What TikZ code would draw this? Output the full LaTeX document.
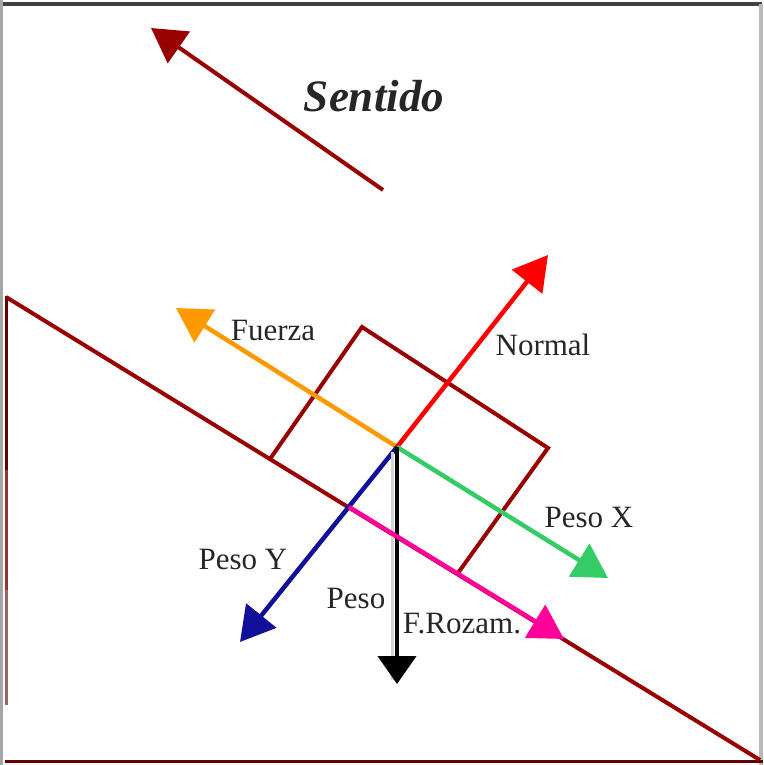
\documentclass[tikz,border=0pt]{standalone}
\usepackage{fontspec}
\setmainfont{Liberation Serif}
\usetikzlibrary{arrows.meta}
\definecolor{dred}{HTML}{990000}
\definecolor{ddred}{HTML}{660000}
\definecolor{mred}{HTML}{993333}
\definecolor{lred}{HTML}{996666}
\definecolor{forange}{HTML}{FF9900}
\definecolor{fred}{HTML}{FF0000}
\definecolor{fgreen}{HTML}{33CC66}
\definecolor{fnavy}{HTML}{10109A}
\definecolor{fpink}{HTML}{FF0099}
\tikzset{
  frame/.style={line width=3.5pt},
  body/.style={dred,line width=4pt,line join=miter},
  force/.style={line width=4.5pt,-{Triangle[length=34pt,width=38pt]}},
  lbl/.style={font=\fontsize{31}{31}\selectfont,text=black!85,inner sep=0pt},
}
\begin{document}
\begin{tikzpicture}[x=1pt,y=-1pt]
\useasboundingbox (0,0) rectangle (763,765);
% frame
\draw[frame,black!75] (0,4) -- (762,4);
\draw[frame,gray!55] (761,4) -- (761,765);
\draw[frame,gray!70] (1.5,0) -- (1.5,765);
\draw[frame,ddred] (5,761.5) -- (763,761.5);
\draw[line width=3pt,ddred] (6,296) -- (6,470);
\draw[line width=3pt,mred] (6,470) -- (6,590);
\draw[line width=3pt,lred] (6,590) -- (6,705);
% incline
\coordinate (A) at (6,297);
\coordinate (B) at (760,760);
\draw[body] (A) -- (B);
% block
\coordinate (c1) at (270,459);
\coordinate (c2) at (362,327);
\coordinate (c3) at (548,448);
\coordinate (c4) at (458,573);
\draw[body] (c1) -- (c2) -- (c3) -- (c4);
% origin and tips
\coordinate (O) at (397,447);
\coordinate (Ssrc) at (383,190);
\coordinate (Stip) at (151,28);
\coordinate (Ntip) at (548,255);
\coordinate (Ftip) at (176,308);
\coordinate (PXtip) at (608,578);
\coordinate (PYtip) at (240,642);
\coordinate (Psh1) at (392,452);
\coordinate (Psh2) at (392,680);
\coordinate (Ptip) at (397,684);
\coordinate (Rsrc) at (349,507);
\coordinate (Rtip) at (564,639);
% sentido
\draw[force,dred,line width=4pt] (Ssrc) -- (Stip);
\node[font=\fontsize{45}{45}\selectfont\bfseries\itshape,text=black!85,inner sep=0pt] (sent) at (374,96) {Sentido};
% forces
\draw[force,forange] (O) -- (Ftip);
\draw[force,fred] (O) -- (Ntip);
\draw[force,fgreen] (O) -- (PXtip);
\draw[force,fnavy] (O) -- (PYtip);
\draw[gray!35,line width=3pt] (Psh1) -- (Psh2);
\draw[force,black,-{Triangle[length=28pt,width=38pt]}] (O) -- (Ptip);
\draw[force,fpink] (Rsrc) -- (Rtip);
% labels
\node[lbl] (lF) at (273,330) {Fuerza};
\node[lbl] (lN) at (543,345) {Normal};
\node[lbl] (lPX) at (589,517) {Peso X};
\node[lbl] (lPY) at (243,559) {Peso Y};
\node[lbl] (lP) at (356,598) {Peso};
\node[lbl] (lR) at (462,624) {F.Rozam.};
\end{tikzpicture}
\end{document}
